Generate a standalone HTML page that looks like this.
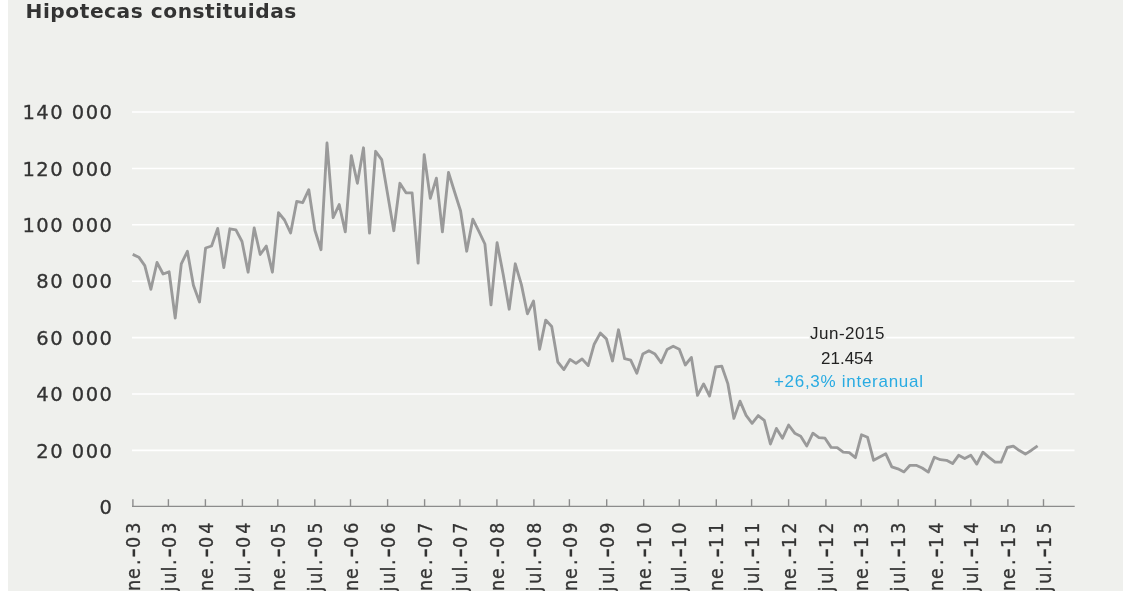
<!DOCTYPE html>
<html><head><meta charset="utf-8"><style>
html,body{margin:0;padding:0;background:#fff;}
body{width:1128px;height:591px;overflow:hidden;position:relative;}
#panel{position:absolute;left:8px;top:0;width:1115px;height:591px;background:#eff0ed;}
svg{position:absolute;left:0;top:0;filter:blur(0.35px);}
.t{font-family:"DejaVu Sans","Liberation Sans",sans-serif;}
</style></head><body>
<div id="panel"></div>
<svg width="1128" height="591" viewBox="0 0 1128 591">
<text class="t" x="25.5" y="17.6" font-size="20.2" font-weight="bold" letter-spacing="0.52" fill="#333">Hipotecas constituidas</text>
<g stroke="#ffffff" stroke-width="1.6"><line x1="132" y1="450.4" x2="1074.5" y2="450.4"/><line x1="132" y1="394.0" x2="1074.5" y2="394.0"/><line x1="132" y1="337.6" x2="1074.5" y2="337.6"/><line x1="132" y1="281.2" x2="1074.5" y2="281.2"/><line x1="132" y1="224.8" x2="1074.5" y2="224.8"/><line x1="132" y1="168.5" x2="1074.5" y2="168.5"/><line x1="132" y1="112.0" x2="1074.5" y2="112.0"/></g>
<g class="t" font-size="19.5" letter-spacing="1.4" word-spacing="0.3" fill="#333" stroke="#333" stroke-width="0.3" text-anchor="end"><text x="113.3" y="514.0">0</text><text x="113.3" y="457.6">20 000</text><text x="113.3" y="401.1">40 000</text><text x="113.3" y="344.8">60 000</text><text x="113.3" y="288.4">80 000</text><text x="113.3" y="231.9">100 000</text><text x="113.3" y="175.6">120 000</text><text x="113.3" y="119.1">140 000</text></g>
<rect x="809" y="327" width="77" height="14" fill="#eff0ed"/>
<polyline points="132.7,254.4 138.8,257.2 144.8,265.6 150.9,289.3 157.0,262.5 163.1,274.0 169.1,271.8 175.2,318.0 181.3,263.8 187.4,251.3 193.4,285.2 199.5,302.0 205.6,248.0 211.6,246.0 217.7,228.4 223.8,267.5 229.9,228.8 235.9,229.9 242.0,241.5 248.1,272.2 254.2,228.0 260.2,254.5 266.3,246.1 272.4,272.2 278.5,212.6 284.5,220.0 290.6,233.0 296.7,201.4 302.7,202.7 308.8,189.7 314.9,230.3 321.0,249.7 327.0,143.0 333.1,217.7 339.2,204.6 345.3,231.9 351.3,155.6 357.4,183.3 363.5,147.8 369.5,233.1 375.6,151.3 381.7,159.6 387.8,195.2 393.8,230.7 399.9,183.3 406.0,192.8 412.1,192.8 418.1,263.1 424.2,154.7 430.3,198.4 436.4,178.1 442.4,231.9 448.5,172.5 454.6,192.0 460.6,211.0 466.7,251.2 472.8,219.2 478.9,231.4 484.9,244.0 491.0,304.9 497.1,242.7 503.2,274.4 509.2,309.2 515.3,263.8 521.4,284.6 527.4,313.8 533.5,301.0 539.6,349.3 545.7,320.1 551.7,326.4 557.8,362.0 563.9,369.6 570.0,359.4 576.0,363.4 582.1,359.0 588.2,365.6 594.2,344.2 600.3,333.1 606.4,338.9 612.5,361.0 618.5,329.8 624.6,358.7 630.7,360.2 636.8,373.2 642.8,354.1 648.9,350.8 655.0,354.1 661.1,362.8 667.1,349.5 673.2,346.3 679.3,349.3 685.3,365.0 691.4,357.4 697.5,395.4 703.6,383.9 709.6,396.0 715.7,367.0 721.8,366.2 727.9,383.9 733.9,418.4 740.0,401.1 746.1,415.4 752.1,423.3 758.2,415.6 764.3,420.3 770.4,444.0 776.4,428.4 782.5,438.2 788.6,425.0 794.7,433.2 800.7,436.3 806.8,446.0 812.9,433.2 818.9,437.6 825.0,438.2 831.1,447.4 837.2,447.6 843.2,452.1 849.3,452.7 855.4,457.7 861.5,434.8 867.5,437.2 873.6,460.3 879.7,457.0 885.8,453.8 891.8,466.8 897.9,468.8 904.0,471.9 910.0,465.3 916.1,465.3 922.2,468.0 928.3,472.1 934.3,457.2 940.4,459.7 946.5,460.3 952.6,463.6 958.6,455.3 964.7,458.5 970.8,455.3 976.8,464.1 982.9,452.2 989.0,457.3 995.1,462.1 1001.1,462.1 1007.2,447.5 1013.3,446.1 1019.4,450.6 1025.4,454.1 1031.5,450.2 1037.6,445.8" fill="none" stroke="#9a9a9a" stroke-width="2.85" stroke-linejoin="round"/>
<g stroke="#8c8c8c" stroke-width="1.4"><line x1="132" y1="506.4" x2="1074.7" y2="506.4"/><line x1="132.9" y1="499.2" x2="132.9" y2="506.4"/><line x1="168.4" y1="499.2" x2="168.4" y2="506.4"/><line x1="205.4" y1="499.2" x2="205.4" y2="506.4"/><line x1="242.4" y1="499.2" x2="242.4" y2="506.4"/><line x1="277.8" y1="499.2" x2="277.8" y2="506.4"/><line x1="314.8" y1="499.2" x2="314.8" y2="506.4"/><line x1="350.5" y1="499.2" x2="350.5" y2="506.4"/><line x1="387.6" y1="499.2" x2="387.6" y2="506.4"/><line x1="424.6" y1="499.2" x2="424.6" y2="506.4"/><line x1="459.9" y1="499.2" x2="459.9" y2="506.4"/><line x1="496.9" y1="499.2" x2="496.9" y2="506.4"/><line x1="533.9" y1="499.2" x2="533.9" y2="506.4"/><line x1="569.4" y1="499.2" x2="569.4" y2="506.4"/><line x1="606.7" y1="499.2" x2="606.7" y2="506.4"/><line x1="643.7" y1="499.2" x2="643.7" y2="506.4"/><line x1="679.3" y1="499.2" x2="679.3" y2="506.4"/><line x1="716.3" y1="499.2" x2="716.3" y2="506.4"/><line x1="751.6" y1="499.2" x2="751.6" y2="506.4"/><line x1="788.6" y1="499.2" x2="788.6" y2="506.4"/><line x1="825.9" y1="499.2" x2="825.9" y2="506.4"/><line x1="861.2" y1="499.2" x2="861.2" y2="506.4"/><line x1="898.2" y1="499.2" x2="898.2" y2="506.4"/><line x1="935.4" y1="499.2" x2="935.4" y2="506.4"/><line x1="970.8" y1="499.2" x2="970.8" y2="506.4"/><line x1="1007.9" y1="499.2" x2="1007.9" y2="506.4"/><line x1="1043.5" y1="499.2" x2="1043.5" y2="506.4"/></g>
<g class="t" font-size="19.5" font-stretch="condensed" fill="#333" stroke="#333" stroke-width="0.3"><text transform="translate(140.00,0) rotate(-90)"><tspan x="-602.92" y="0">e</tspan><tspan x="-591.11" y="0">n</tspan><tspan x="-578.92" y="0">e</tspan><tspan x="-564.98" y="0">.</tspan><tspan x="-557.87" y="1.1" font-size="27.0" font-stretch="normal">-</tspan><tspan x="-547.88" y="0">0</tspan><tspan x="-533.78" y="0">3</tspan></text><text transform="translate(175.50,0) rotate(-90)"><tspan x="-591.47" y="0">j</tspan><tspan x="-583.81" y="0">u</tspan><tspan x="-571.44" y="0">l</tspan><tspan x="-564.98" y="0">.</tspan><tspan x="-557.87" y="1.1" font-size="27.0" font-stretch="normal">-</tspan><tspan x="-547.88" y="0">0</tspan><tspan x="-533.78" y="0">3</tspan></text><text transform="translate(212.50,0) rotate(-90)"><tspan x="-602.92" y="0">e</tspan><tspan x="-591.11" y="0">n</tspan><tspan x="-578.92" y="0">e</tspan><tspan x="-564.98" y="0">.</tspan><tspan x="-557.87" y="1.1" font-size="27.0" font-stretch="normal">-</tspan><tspan x="-547.88" y="0">0</tspan><tspan x="-533.78" y="0">4</tspan></text><text transform="translate(249.50,0) rotate(-90)"><tspan x="-591.47" y="0">j</tspan><tspan x="-583.81" y="0">u</tspan><tspan x="-571.44" y="0">l</tspan><tspan x="-564.98" y="0">.</tspan><tspan x="-557.87" y="1.1" font-size="27.0" font-stretch="normal">-</tspan><tspan x="-547.88" y="0">0</tspan><tspan x="-533.78" y="0">4</tspan></text><text transform="translate(284.90,0) rotate(-90)"><tspan x="-602.92" y="0">e</tspan><tspan x="-591.11" y="0">n</tspan><tspan x="-578.92" y="0">e</tspan><tspan x="-564.98" y="0">.</tspan><tspan x="-557.87" y="1.1" font-size="27.0" font-stretch="normal">-</tspan><tspan x="-547.88" y="0">0</tspan><tspan x="-533.78" y="0">5</tspan></text><text transform="translate(321.90,0) rotate(-90)"><tspan x="-591.47" y="0">j</tspan><tspan x="-583.81" y="0">u</tspan><tspan x="-571.44" y="0">l</tspan><tspan x="-564.98" y="0">.</tspan><tspan x="-557.87" y="1.1" font-size="27.0" font-stretch="normal">-</tspan><tspan x="-547.88" y="0">0</tspan><tspan x="-533.78" y="0">5</tspan></text><text transform="translate(357.60,0) rotate(-90)"><tspan x="-602.92" y="0">e</tspan><tspan x="-591.11" y="0">n</tspan><tspan x="-578.92" y="0">e</tspan><tspan x="-564.98" y="0">.</tspan><tspan x="-557.87" y="1.1" font-size="27.0" font-stretch="normal">-</tspan><tspan x="-547.88" y="0">0</tspan><tspan x="-533.78" y="0">6</tspan></text><text transform="translate(394.70,0) rotate(-90)"><tspan x="-591.47" y="0">j</tspan><tspan x="-583.81" y="0">u</tspan><tspan x="-571.44" y="0">l</tspan><tspan x="-564.98" y="0">.</tspan><tspan x="-557.87" y="1.1" font-size="27.0" font-stretch="normal">-</tspan><tspan x="-547.88" y="0">0</tspan><tspan x="-533.78" y="0">6</tspan></text><text transform="translate(431.70,0) rotate(-90)"><tspan x="-602.92" y="0">e</tspan><tspan x="-591.11" y="0">n</tspan><tspan x="-578.92" y="0">e</tspan><tspan x="-564.98" y="0">.</tspan><tspan x="-557.87" y="1.1" font-size="27.0" font-stretch="normal">-</tspan><tspan x="-547.88" y="0">0</tspan><tspan x="-533.78" y="0">7</tspan></text><text transform="translate(467.00,0) rotate(-90)"><tspan x="-591.47" y="0">j</tspan><tspan x="-583.81" y="0">u</tspan><tspan x="-571.44" y="0">l</tspan><tspan x="-564.98" y="0">.</tspan><tspan x="-557.87" y="1.1" font-size="27.0" font-stretch="normal">-</tspan><tspan x="-547.88" y="0">0</tspan><tspan x="-533.78" y="0">7</tspan></text><text transform="translate(504.00,0) rotate(-90)"><tspan x="-602.92" y="0">e</tspan><tspan x="-591.11" y="0">n</tspan><tspan x="-578.92" y="0">e</tspan><tspan x="-564.98" y="0">.</tspan><tspan x="-557.87" y="1.1" font-size="27.0" font-stretch="normal">-</tspan><tspan x="-547.88" y="0">0</tspan><tspan x="-533.78" y="0">8</tspan></text><text transform="translate(541.00,0) rotate(-90)"><tspan x="-591.47" y="0">j</tspan><tspan x="-583.81" y="0">u</tspan><tspan x="-571.44" y="0">l</tspan><tspan x="-564.98" y="0">.</tspan><tspan x="-557.87" y="1.1" font-size="27.0" font-stretch="normal">-</tspan><tspan x="-547.88" y="0">0</tspan><tspan x="-533.78" y="0">8</tspan></text><text transform="translate(576.50,0) rotate(-90)"><tspan x="-602.92" y="0">e</tspan><tspan x="-591.11" y="0">n</tspan><tspan x="-578.92" y="0">e</tspan><tspan x="-564.98" y="0">.</tspan><tspan x="-557.87" y="1.1" font-size="27.0" font-stretch="normal">-</tspan><tspan x="-547.88" y="0">0</tspan><tspan x="-533.78" y="0">9</tspan></text><text transform="translate(613.80,0) rotate(-90)"><tspan x="-591.47" y="0">j</tspan><tspan x="-583.81" y="0">u</tspan><tspan x="-571.44" y="0">l</tspan><tspan x="-564.98" y="0">.</tspan><tspan x="-557.87" y="1.1" font-size="27.0" font-stretch="normal">-</tspan><tspan x="-547.88" y="0">0</tspan><tspan x="-533.78" y="0">9</tspan></text><text transform="translate(650.80,0) rotate(-90)"><tspan x="-602.92" y="0">e</tspan><tspan x="-591.11" y="0">n</tspan><tspan x="-578.92" y="0">e</tspan><tspan x="-564.98" y="0">.</tspan><tspan x="-557.87" y="1.1" font-size="27.0" font-stretch="normal">-</tspan><tspan x="-547.88" y="0">1</tspan><tspan x="-533.78" y="0">0</tspan></text><text transform="translate(686.40,0) rotate(-90)"><tspan x="-591.47" y="0">j</tspan><tspan x="-583.81" y="0">u</tspan><tspan x="-571.44" y="0">l</tspan><tspan x="-564.98" y="0">.</tspan><tspan x="-557.87" y="1.1" font-size="27.0" font-stretch="normal">-</tspan><tspan x="-547.88" y="0">1</tspan><tspan x="-533.78" y="0">0</tspan></text><text transform="translate(723.40,0) rotate(-90)"><tspan x="-602.92" y="0">e</tspan><tspan x="-591.11" y="0">n</tspan><tspan x="-578.92" y="0">e</tspan><tspan x="-564.98" y="0">.</tspan><tspan x="-557.87" y="1.1" font-size="27.0" font-stretch="normal">-</tspan><tspan x="-547.88" y="0">1</tspan><tspan x="-533.78" y="0">1</tspan></text><text transform="translate(758.70,0) rotate(-90)"><tspan x="-591.47" y="0">j</tspan><tspan x="-583.81" y="0">u</tspan><tspan x="-571.44" y="0">l</tspan><tspan x="-564.98" y="0">.</tspan><tspan x="-557.87" y="1.1" font-size="27.0" font-stretch="normal">-</tspan><tspan x="-547.88" y="0">1</tspan><tspan x="-533.78" y="0">1</tspan></text><text transform="translate(795.70,0) rotate(-90)"><tspan x="-602.92" y="0">e</tspan><tspan x="-591.11" y="0">n</tspan><tspan x="-578.92" y="0">e</tspan><tspan x="-564.98" y="0">.</tspan><tspan x="-557.87" y="1.1" font-size="27.0" font-stretch="normal">-</tspan><tspan x="-547.88" y="0">1</tspan><tspan x="-533.78" y="0">2</tspan></text><text transform="translate(833.00,0) rotate(-90)"><tspan x="-591.47" y="0">j</tspan><tspan x="-583.81" y="0">u</tspan><tspan x="-571.44" y="0">l</tspan><tspan x="-564.98" y="0">.</tspan><tspan x="-557.87" y="1.1" font-size="27.0" font-stretch="normal">-</tspan><tspan x="-547.88" y="0">1</tspan><tspan x="-533.78" y="0">2</tspan></text><text transform="translate(868.30,0) rotate(-90)"><tspan x="-602.92" y="0">e</tspan><tspan x="-591.11" y="0">n</tspan><tspan x="-578.92" y="0">e</tspan><tspan x="-564.98" y="0">.</tspan><tspan x="-557.87" y="1.1" font-size="27.0" font-stretch="normal">-</tspan><tspan x="-547.88" y="0">1</tspan><tspan x="-533.78" y="0">3</tspan></text><text transform="translate(905.30,0) rotate(-90)"><tspan x="-591.47" y="0">j</tspan><tspan x="-583.81" y="0">u</tspan><tspan x="-571.44" y="0">l</tspan><tspan x="-564.98" y="0">.</tspan><tspan x="-557.87" y="1.1" font-size="27.0" font-stretch="normal">-</tspan><tspan x="-547.88" y="0">1</tspan><tspan x="-533.78" y="0">3</tspan></text><text transform="translate(942.50,0) rotate(-90)"><tspan x="-602.92" y="0">e</tspan><tspan x="-591.11" y="0">n</tspan><tspan x="-578.92" y="0">e</tspan><tspan x="-564.98" y="0">.</tspan><tspan x="-557.87" y="1.1" font-size="27.0" font-stretch="normal">-</tspan><tspan x="-547.88" y="0">1</tspan><tspan x="-533.78" y="0">4</tspan></text><text transform="translate(977.90,0) rotate(-90)"><tspan x="-591.47" y="0">j</tspan><tspan x="-583.81" y="0">u</tspan><tspan x="-571.44" y="0">l</tspan><tspan x="-564.98" y="0">.</tspan><tspan x="-557.87" y="1.1" font-size="27.0" font-stretch="normal">-</tspan><tspan x="-547.88" y="0">1</tspan><tspan x="-533.78" y="0">4</tspan></text><text transform="translate(1014.95,0) rotate(-90)"><tspan x="-602.92" y="0">e</tspan><tspan x="-591.11" y="0">n</tspan><tspan x="-578.92" y="0">e</tspan><tspan x="-564.98" y="0">.</tspan><tspan x="-557.87" y="1.1" font-size="27.0" font-stretch="normal">-</tspan><tspan x="-547.88" y="0">1</tspan><tspan x="-533.78" y="0">5</tspan></text><text transform="translate(1050.60,0) rotate(-90)"><tspan x="-591.47" y="0">j</tspan><tspan x="-583.81" y="0">u</tspan><tspan x="-571.44" y="0">l</tspan><tspan x="-564.98" y="0">.</tspan><tspan x="-557.87" y="1.1" font-size="27.0" font-stretch="normal">-</tspan><tspan x="-547.88" y="0">1</tspan><tspan x="-533.78" y="0">5</tspan></text></g>
<g font-family="'Liberation Sans',sans-serif" font-size="17" text-anchor="middle">
<text x="847.5" y="339" fill="#222" letter-spacing="0.53">Jun-2015</text>
<text x="847" y="364" fill="#222">21.454</text>
<text x="848.8" y="387" fill="#29abe2" letter-spacing="0.72">+26,3% interanual</text>
</g>
</svg>
</body></html>
